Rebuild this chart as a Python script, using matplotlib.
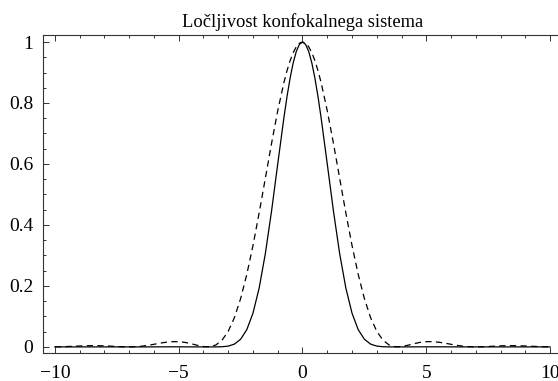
import numpy as np
import matplotlib
matplotlib.use("Agg")
import matplotlib.pyplot as plt
from matplotlib.ticker import MultipleLocator, FixedLocator

# x positions of samples
x_vals = [-10.0, -9.75, -9.5, -9.25, -9.0, -8.75, -8.5, -8.25, -8.0, -7.75,
          -7.5, -7.25, -7.0, -6.75, -6.5, -6.25, -6.0, -5.75, -5.5, -5.25,
          -5.0, -4.75, -4.5, -4.25, -4.0, -3.75, -3.5, -3.25, -3.0, -2.75,
          -2.5, -2.25, -2.0, -1.75, -1.5, -1.25, -1.0, -0.75, -0.625, -0.5,
          -0.375, -0.25, -0.125, 0.0, 0.125, 0.25, 0.375, 0.5, 0.625, 0.75,
          1.0, 1.25, 1.5, 1.75, 2.0, 2.25,
          2.5, 2.75, 3.0, 3.25, 3.5, 3.75, 4.0, 4.25, 4.5, 4.75,
          5.0, 5.25, 5.5, 5.75, 6.0, 6.25, 6.5, 6.75, 7.0, 7.25,
          7.5, 7.75, 8.0, 8.25, 8.5, 8.75, 9.0, 9.25, 9.5, 9.75, 10.0]

# dashed curve (widefield)
dashed_vals = [0.0001, 0.0005, 0.0012, 0.0021, 0.0030, 0.0038, 0.0041, 0.0041, 0.0034, 0.0025,
               0.0013, 0.0004, 0.0000, 0.0006, 0.0022, 0.0050, 0.0085, 0.0124, 0.0154, 0.0171,
               0.0172, 0.0149, 0.0105, 0.0053, 0.0011, 0.0003, 0.0062, 0.0220, 0.0511, 0.0960,
               0.1582, 0.2377, 0.3326, 0.4396, 0.5534, 0.6675, 0.7746, 0.8674, 0.9062, 0.9391,
               0.9654, 0.9845, 0.9961, 1.0000, 0.9961, 0.9845, 0.9654, 0.9391, 0.9062, 0.8674,
               0.7746, 0.6675, 0.5534, 0.4396, 0.3326, 0.2377,
               0.1582, 0.0960, 0.0511, 0.0220, 0.0062, 0.0003, 0.0011, 0.0053, 0.0105, 0.0149,
               0.0172, 0.0171, 0.0154, 0.0124, 0.0085, 0.0050, 0.0022, 0.0006, 0.0000, 0.0004,
               0.0013, 0.0025, 0.0034, 0.0041, 0.0041, 0.0038, 0.0030, 0.0021, 0.0012, 0.0005, 0.0001]

# solid curve (confocal)
solid_vals = [0.0, 0.0, 0.0, 0.0, 0.0, 0.0, 0.0, 0.0, 0.0, 0.0,
              0.0, 0.0, 0.0, 0.0, 0.0, 0.0, 0.0001, 0.0002, 0.0002, 0.0003,
              0.0003, 0.0002, 0.0001, 0.0, 0.0, 0.0, 0.0, 0.0005, 0.0026, 0.0092,
              0.0250, 0.0565, 0.1106, 0.1933, 0.3063, 0.4455, 0.6000, 0.7523, 0.8213, 0.8819,
              0.9319, 0.9692, 0.9922, 1.0000, 0.9922, 0.9692, 0.9319, 0.8819, 0.8213, 0.7523,
              0.6000, 0.4455, 0.3063, 0.1933, 0.1106, 0.0565,
              0.0250, 0.0092, 0.0026, 0.0005, 0.0, 0.0, 0.0, 0.0, 0.0001, 0.0002,
              0.0003, 0.0003, 0.0002, 0.0002, 0.0001, 0.0, 0.0, 0.0, 0.0, 0.0,
              0.0, 0.0, 0.0, 0.0, 0.0, 0.0, 0.0, 0.0, 0.0, 0.0, 0.0]

x_ticks = [-10, -5, 0, 5, 10]
x_tick_labels = ["\u221210", "\u22125", "0", "5", "10"]
y_ticks = [0, 0.2, 0.4, 0.6, 0.8, 1]
y_tick_labels = ["0", "0.2", "0.4", "0.6", "0.8", "1"]
title = "Ločljivost konfokalnega sistema"

plt.rcParams['font.family'] = ['Liberation Serif', 'DejaVu Serif']

fig = plt.figure(figsize=(5.58, 3.81), dpi=100)
ax = fig.add_axes([43/558, 28/381, 519/558, 318/381])

ax.plot(x_vals, solid_vals, color='black', lw=0.9, solid_joinstyle='round')
ax.plot(x_vals, dashed_vals, color='black', lw=0.9, dashes=(5, 3.5))

ax.set_xlim(-10.48, 10.48)
ax.set_ylim(-0.02, 1.023)

ax.xaxis.set_major_locator(FixedLocator(x_ticks))
ax.set_xticklabels(x_tick_labels)
ax.xaxis.set_minor_locator(MultipleLocator(1))
ax.yaxis.set_major_locator(FixedLocator(y_ticks))
ax.set_yticklabels(y_tick_labels)
ax.yaxis.set_minor_locator(MultipleLocator(0.05))

ax.tick_params(which='both', direction='in', top=True, right=False,
               color='#333333', width=0.7)
ax.tick_params(which='major', length=4.5, labelsize=14, pad=7)
ax.tick_params(axis='x', which='major', pad=9)
ax.tick_params(which='minor', length=2.5)
for s in ax.spines.values():
    s.set_linewidth(0.8)
    s.set_color('#333333')

ax.set_title(title, fontsize=13.3, pad=6)

fig.savefig("out.png", dpi=100)
